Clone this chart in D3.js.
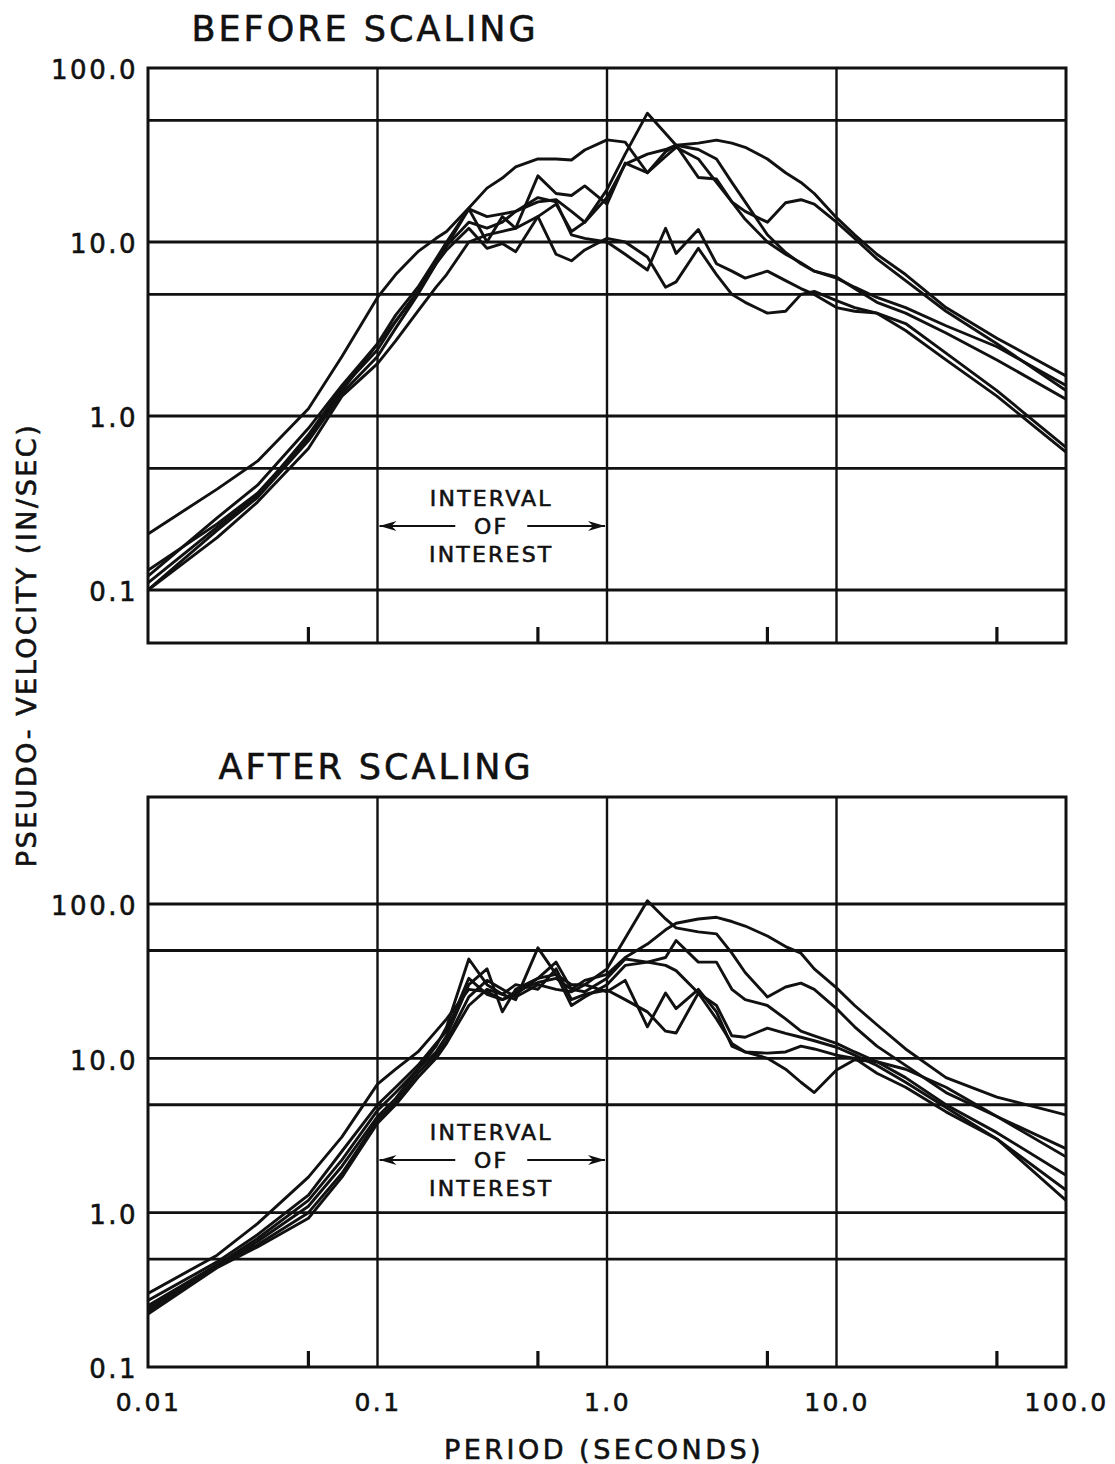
<!DOCTYPE html>
<html>
<head>
<meta charset="utf-8">
<script src="https://cdn.jsdelivr.net/npm/d3@7"></script>
<style>
  body { margin: 0; background: #fff; }
  svg { display: block; }
  text { font-family: "DejaVu Sans", sans-serif; fill: #111; stroke: #111; stroke-width: 0.6px; }
</style>
</head>
<body>
<svg id="chart" width="1115" height="1464"></svg>
<script>
// Response spectra: pseudo-velocity (in/sec) against period (seconds), six records per panel.
const periods = [0.01, 0.02, 0.03, 0.05, 0.07, 0.1, 0.12, 0.15, 0.18, 0.2, 0.25, 0.3, 0.35, 0.4,
  0.5, 0.6, 0.7, 0.8, 1.0, 1.2, 1.5, 1.8, 2.0, 2.5, 3.0, 3.5, 4.0, 5.0, 6.0, 7.0, 8.0,
  10, 12, 15, 20, 30, 50, 100];

// Before scaling
const beforeA = [0.21, 0.38, 0.55, 1.1, 2.2, 4.8, 6.5, 8.8, 10.5, 11.5, 15.7, 20.4, 23.3, 27, 30, 30, 29.6, 33.8, 38.6, 37.5,
  25, 31, 35, 30, 22, 17, 13.5, 10, 8.5, 7.6, 6.8, 6.2, 5.5, 4.8, 4.2, 3.3, 2.5, 1.5];
const beforeB = [0.13, 0.24, 0.36, 0.75, 1.4, 2.6, 3.8, 5.5, 8, 10, 15.5, 14, 14.5, 15, 17, 17.5, 15, 13, 18, 28,
  32, 34, 36, 37, 38.5, 37, 35, 30, 25, 22, 19, 13.8, 11, 8.5, 6.5, 4.2, 2.8, 1.7];
const beforeC = [0.10, 0.22, 0.34, 0.72, 1.35, 2.2, 3.2, 5, 7.5, 9, 12, 9.2, 9.8, 8.8, 14, 16.5, 11.5, 13, 20, 32,
  55, 42, 36, 23.5, 23, 17, 15, 13, 16.8, 17.5, 16.5, 13, 10.5, 8, 6, 4, 2.6, 1.4];
const beforeD = [0.11, 0.23, 0.35, 0.78, 1.45, 2.4, 3.5, 5.2, 7.8, 9.5, 15.5, 10, 14, 12, 24, 19, 18.5, 21, 16.5, 28.4,
  25, 33, 36, 34, 30, 22, 17, 11, 8.7, 7.5, 6.8, 6.3, 5.4, 4.5, 3.9, 3.0, 2.1, 1.25];
const beforeE = [0.12, 0.26, 0.4, 0.85, 1.5, 2.6, 3.5, 5.2, 7.5, 9.5, 13, 12, 13, 15, 18, 17, 11, 10.5, 10, 8.5,
  6.9, 12, 8.6, 11.8, 7.5, 6.8, 6.2, 6.8, 6, 5.4, 5.0, 4.2, 4.0, 3.9, 3.4, 2.3, 1.4, 0.66];
const beforeF = [0.10, 0.2, 0.32, 0.65, 1.3, 2.0, 2.7, 4, 5.5, 6.5, 10, 11, 11.5, 12, 14, 8.5, 7.8, 9, 10.5, 10,
  8.2, 5.5, 5.9, 9.2, 6.5, 5, 4.5, 3.9, 4.0, 5.0, 5.2, 4.6, 4.2, 3.9, 3.1, 2.1, 1.3, 0.62];

// After scaling
const afterP = [0.30, 0.53, 0.85, 1.7, 3.1, 6.8, 8.5, 11, 15, 18, 28, 27, 24, 26, 33, 35, 30, 30, 38, 60,
  105, 80, 70, 66, 64, 48, 36, 25, 29, 30.7, 28, 21, 16, 12, 9, 6, 4.2, 2.3];
const afterQ = [0.27, 0.48, 0.72, 1.3, 2.5, 5.0, 6.5, 9, 12.5, 15, 33, 26, 24, 27, 31, 33, 28, 32, 35, 45,
  55, 68, 75, 80, 82, 77, 72, 62, 53, 48, 38, 28.6, 22, 16.5, 11.5, 7.5, 5.6, 4.3];
const afterR = [0.25, 0.46, 0.68, 1.2, 2.2, 4.6, 6, 8.5, 12, 16, 44, 30, 26, 24, 52, 35, 22, 25, 30, 40,
  42, 45, 58, 42, 42, 28, 24, 22, 18, 15, 14, 12.5, 11, 9.5, 7.5, 5, 3.3, 1.75];
const afterS = [0.24, 0.45, 0.65, 1.1, 2.0, 4.2, 5.5, 8.5, 11, 14, 30, 38, 20, 28, 33, 42, 28, 27, 33, 44,
  42, 40, 37, 26.5, 22, 14, 13.7, 15.7, 14.5, 13.7, 13, 11.8, 10.5, 9, 7, 4.8, 3.0, 1.4];
const afterU = [0.23, 0.45, 0.62, 1.0, 1.8, 4.0, 5.2, 8, 10.5, 13, 25, 32, 28, 25, 30, 28, 27, 30, 27, 32,
  16, 26.5, 21, 28, 20, 12, 11, 10, 8.5, 7, 6, 8.4, 9.8, 9.5, 8.5, 6.5, 4.2, 2.6];
const afterW = [0.22, 0.44, 0.6, 0.92, 1.7, 3.8, 5, 7.5, 10, 12.5, 22, 28, 26, 30, 28, 38, 24, 26, 27.7, 24,
  20, 15, 14.6, 26.5, 18, 12.5, 11, 10.8, 11, 12, 11.5, 10.5, 10, 8, 6.5, 4.5, 3.0, 1.2];

const yTickValues = [0.1, 1, 10, 100];
const yTickLabels = ["0.1", "1.0", "10.0", "100.0"];
const xTickValues = [0.01, 0.1, 1, 10, 100];
const xTickLabels = ["0.01", "0.1", "1.0", "10.0", "100.0"];
const minorPeriods = [0.05, 0.5, 5, 50];
const periodGrid = [0.1, 1, 10];
const beforeGrid = [0.1, 0.5, 1, 5, 10, 50];
const afterGrid = [0.5, 1, 5, 10, 50, 100];
const interval = [0.1, 1.0];
const noteLines = ["INTERVAL", "OF", "INTEREST"];

const ink = "#111";
const svg = d3.select("#chart");

function drawPanel(cfg) {
  const x = d3.scaleLog().domain([0.01, 100]).range([148, 1066]);
  const y = d3.scaleLog().domain([0.1, 100]).range(cfg.yRange);
  const top = cfg.frameTop, bottom = cfg.frameBottom;
  const left = x(0.01), right = x(100);
  const g = svg.append("g");

  g.append("clipPath").attr("id", cfg.id + "-clip")
    .append("rect").attr("x", left).attr("y", top)
    .attr("width", right - left).attr("height", bottom - top);

  // horizontal rules
  g.selectAll(".hgrid").data(cfg.grid).join("line")
    .attr("x1", left).attr("x2", right)
    .attr("y1", d => y(d)).attr("y2", d => y(d))
    .attr("stroke", ink).attr("stroke-width", 2.9);

  // decade rules on period axis
  g.selectAll(".vgrid").data(periodGrid).join("line")
    .attr("x1", d => x(d)).attr("x2", d => x(d))
    .attr("y1", top).attr("y2", bottom)
    .attr("stroke", ink).attr("stroke-width", 2.4);

  // half-decade ticks along the bottom edge
  g.selectAll(".minor").data(minorPeriods).join("line")
    .attr("x1", d => x(d)).attr("x2", d => x(d))
    .attr("y1", bottom).attr("y2", bottom - 16)
    .attr("stroke", ink).attr("stroke-width", 3.2);

  // frame
  g.append("rect").attr("x", left).attr("y", top)
    .attr("width", right - left).attr("height", bottom - top)
    .attr("fill", "none").attr("stroke", ink).attr("stroke-width", 3);

  // spectra
  const line = d3.line().x((d, i) => x(periods[i])).y(d => y(d));
  g.append("g").attr("clip-path", `url(#${cfg.id}-clip)`)
    .selectAll("path").data(cfg.series).join("path")
    .attr("d", line).attr("fill", "none")
    .attr("stroke", ink).attr("stroke-width", 2.9)
    .attr("stroke-linejoin", "round");

  // value axis labels
  const yAxis = d3.axisLeft(y).tickValues(yTickValues)
    .tickFormat((d, i) => yTickLabels[i]).tickSize(0).tickPadding(10);
  const ya = g.append("g").attr("transform", `translate(${left},0)`).call(yAxis);
  ya.select(".domain").remove();
  ya.selectAll("text").style("font-family", '"DejaVu Sans", sans-serif')
    .style("font-size", "26px").style("letter-spacing", "2.5px").attr("fill", ink)
    .attr("dy", "0.42em");

  // period axis labels
  if (cfg.xLabels) {
    const xAxis = d3.axisBottom(x).tickValues(xTickValues)
      .tickFormat((d, i) => xTickLabels[i]).tickSize(0).tickPadding(26);
    const xa = g.append("g").attr("transform", `translate(0,${bottom})`).call(xAxis);
    xa.select(".domain").remove();
    xa.selectAll("text").style("font-family", '"DejaVu Sans", sans-serif')
      .style("font-size", "25px").style("letter-spacing", "2.5px").attr("fill", ink);
  }

  // panel title
  g.append("text").attr("x", cfg.titleX).attr("y", cfg.titleY)
    .attr("text-anchor", "middle").style("font-size", "35px")
    .style("letter-spacing", "3px").text(cfg.title);

  // interval-of-interest note
  const x0 = x(interval[0]), x1 = x(interval[1]);
  const cx = (x0 + x1) / 2 - 1;
  const ay = cfg.arrowY;
  g.selectAll(".note").data(noteLines).join("text")
    .attr("x", cx).attr("y", (d, i) => ay + (i - 1) * 28)
    .attr("dy", "0.36em")
    .attr("text-anchor", "middle").style("font-size", "22px")
    .style("letter-spacing", "2.2px").text(d => d);
  const gap = 36;
  [[x0 + 2, cx - gap], [cx + gap, x1 - 2]].forEach(([a, b]) => {
    g.append("line").attr("x1", a).attr("x2", b).attr("y1", ay).attr("y2", ay)
      .attr("stroke", ink).attr("stroke-width", 2);
  });
  const head = (tip, dir) => `M${tip},${ay} L${tip - dir * 17},${ay - 5} L${tip - dir * 12},${ay} L${tip - dir * 17},${ay + 5} Z`;
  g.append("path").attr("d", head(x0 + 2, -1)).attr("fill", ink);
  g.append("path").attr("d", head(x1 - 2, 1)).attr("fill", ink);
}

drawPanel({
  id: "before", yRange: [590, 68], frameTop: 68, frameBottom: 643,
  grid: beforeGrid, series: [beforeA, beforeB, beforeC, beforeD, beforeE, beforeF],
  title: "BEFORE SCALING", titleX: 365, titleY: 41, xLabels: false, arrowY: 526
});

drawPanel({
  id: "after", yRange: [1367, 904], frameTop: 797, frameBottom: 1367,
  grid: afterGrid, series: [afterP, afterQ, afterR, afterS, afterU, afterW],
  title: "AFTER SCALING", titleX: 376, titleY: 779, xLabels: true, arrowY: 1160
});

// shared axis titles
svg.append("text").attr("transform", "translate(36,645) rotate(-90)")
  .attr("text-anchor", "middle").style("font-size", "27px")
  .style("letter-spacing", "2.5px").text("PSEUDO- VELOCITY (IN/SEC)");

svg.append("text").attr("x", 604).attr("y", 1459)
  .attr("text-anchor", "middle").style("font-size", "27px")
  .style("letter-spacing", "3.5px").text("PERIOD (SECONDS)");
</script>
</body>
</html>
